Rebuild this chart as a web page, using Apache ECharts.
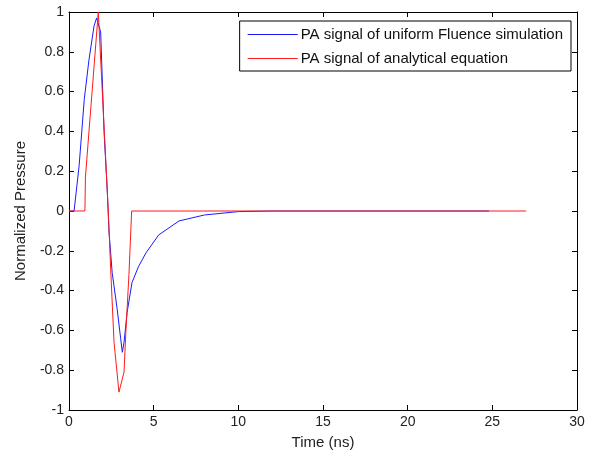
<!DOCTYPE html>
<html>
<head>
<meta charset="utf-8">
<script src="https://cdn.jsdelivr.net/npm/echarts@6/dist/echarts.min.js"></script>
<style>html,body{margin:0;padding:0;background:#fff}#c{width:592px;height:457px}</style>
</head>
<body>
<div id="c"></div>
<script>
var seriesNames = ['PA signal of uniform Fluence simulation', 'PA signal of analytical equation'];
var seriesColors = ['#1a1aff', '#ff1a1a'];
var blueTime = [0, 0.3, 0.6, 0.9, 1.18, 1.48, 1.63, 1.87, 2.07, 2.26, 2.36, 2.55, 2.84, 3.05, 3.15, 3.25, 3.43, 3.72, 4.1, 4.55, 5.3, 6.5, 8, 10, 12, 24.8];
var blueValue = [0, 0, 0.23, 0.56, 0.76, 0.93, 0.97, 0.9, 0.4, 0.1, -0.1, -0.31, -0.49, -0.64, -0.71, -0.66, -0.51, -0.36, -0.28, -0.21, -0.12, -0.05, -0.02, -0.003, 0, 0];
var redTime = [0, 0.94, 0.97, 1.73, 2.32, 2.46, 2.66, 2.95, 3.25, 3.35, 3.54, 3.7, 27];
var redValue = [0, 0, 0.17, 1.0, 0, -0.29, -0.66, -0.91, -0.81, -0.62, -0.32, 0, 0];
var xTicks = {min: 0, max: 30, interval: 5};
var yTicks = {min: -1, max: 1, interval: 0.2};

function pairs(t, v) { return t.map(function (x, i) { return [x, v[i]]; }); }

var font = 'Liberation Sans, Arial, sans-serif';
function ax(extra) {
  var base = {
    axisLine: {show: true, onZero: false, lineStyle: {color: '#000', width: 1}},
    axisTick: {show: true, inside: true, length: 5, lineStyle: {color: '#000'}},
    splitLine: {show: false},
    axisLabel: {color: '#222', fontSize: 14, fontFamily: font}
  };
  return Object.assign(base, extra);
}

var chart = echarts.init(document.getElementById('c'));
chart.setOption({
  animation: false,
  backgroundColor: '#fff',
  grid: {left: 69, right: 15, top: 12, bottom: 47},
  legend: {
    right: 21, top: 21, orient: 'vertical',
    borderColor: '#000', borderWidth: 1, backgroundColor: '#fff',
    padding: [6, 8, 5, 8], itemGap: 9, itemWidth: 50, itemHeight: 1, icon: 'rect',
    textStyle: {fontSize: 15, fontFamily: font, color: '#111', padding: [0, 0, 0, -2]},
    data: seriesNames.map(function (n, i) { return {name: n, itemStyle: {color: seriesColors[i], borderWidth: 0}}; })
  },
  xAxis: [
    ax({type: 'value', min: xTicks.min, max: xTicks.max, interval: xTicks.interval,
      name: 'Time (ns)', nameLocation: 'middle', nameGap: 25,
      nameTextStyle: {fontSize: 15, fontFamily: font, color: '#222'},
      axisLabel: {color: '#222', fontSize: 14, fontFamily: font, margin: 5}}),
    ax({type: 'value', position: 'top', min: xTicks.min, max: xTicks.max, interval: xTicks.interval,
      axisLabel: {show: false}})
  ],
  yAxis: [
    ax({type: 'value', min: yTicks.min, max: yTicks.max, interval: yTicks.interval,
      name: 'Normalized Pressure', nameLocation: 'middle', nameGap: 41,
      nameTextStyle: {fontSize: 15, fontFamily: font, color: '#222'},
      axisLabel: {color: '#222', fontSize: 14, fontFamily: font, margin: 5,
        formatter: function (v) { return String(Math.round(v * 10) / 10); }}}),
    ax({type: 'value', position: 'right', min: yTicks.min, max: yTicks.max, interval: yTicks.interval,
      axisLabel: {show: false}})
  ],
  series: [
    {name: seriesNames[0], type: 'line', data: pairs(blueTime, blueValue), symbol: 'none',
      lineStyle: {color: seriesColors[0], width: 1}, itemStyle: {color: seriesColors[0]}},
    {name: seriesNames[1], type: 'line', data: pairs(redTime, redValue), symbol: 'none',
      lineStyle: {color: seriesColors[1], width: 1}, itemStyle: {color: seriesColors[1]}}
  ]
});
</script>
</body>
</html>
